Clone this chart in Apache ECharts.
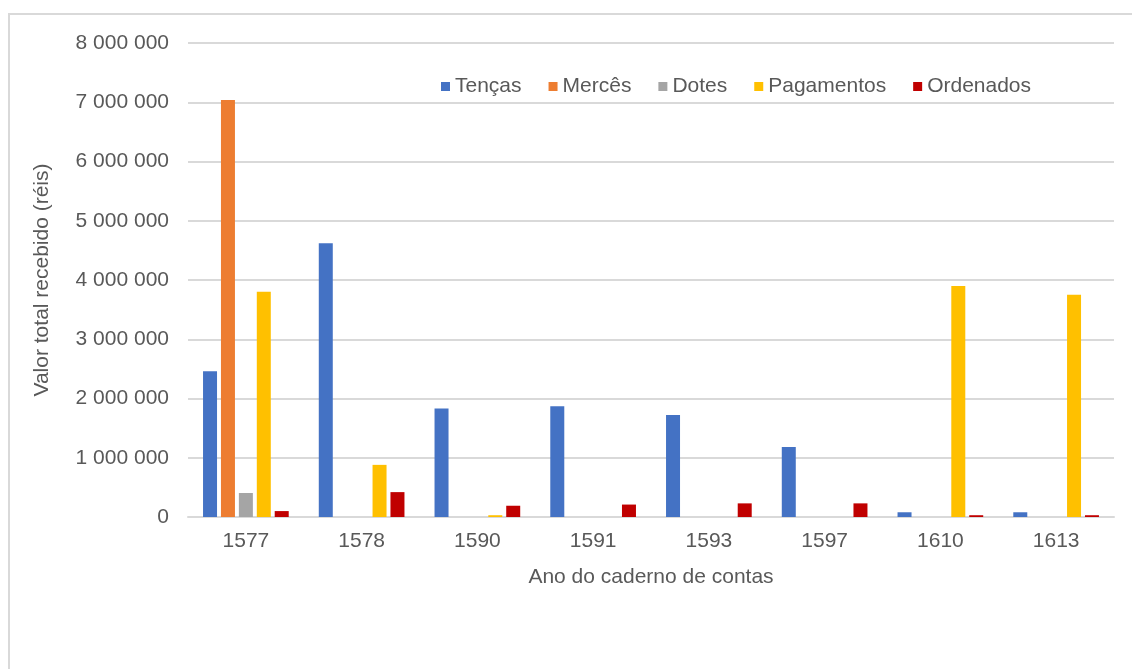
<!DOCTYPE html>
<html lang="pt">
<head>
<meta charset="UTF-8">
<title>Valor total recebido por ano</title>
<script src="https://cdn.jsdelivr.net/npm/echarts@6/dist/echarts.min.js"></script>
<style>
  html,body{margin:0;height:100%;background:#fff;}
  #frame{position:absolute;left:8px;top:13px;right:0;bottom:0;border-top:2px solid #d9d9d9;border-left:2px solid #d9d9d9;}
  #chart{position:absolute;left:0;top:0;width:1132px;height:669px;}
</style>
</head>
<body>
<div id="frame"></div>
<div id="chart"></div>
<script>
const anos = ['1577','1578','1590','1591','1593','1597','1610','1613'];
const tencas     = [2460000,4620000,1830000,1870000,1720000,1180000,80000,80000];
const merces     = [7040000,0,0,0,0,0,0,0];
const dotes      = [405000,0,0,0,0,0,0,0];
const pagamentos = [3800000,880000,30000,0,0,0,3900000,3750000];
const ordenados  = [100000,420000,190000,210000,230000,230000,30000,30000];
const yTicks = [0,1000000,2000000,3000000,4000000,5000000,6000000,7000000,8000000];

const cores = ['#4472C4','#ED7D31','#A5A5A5','#FFC000','#C00000'];
const nomes = ['Tenças','Mercês','Dotes','Pagamentos','Ordenados'];
const valores = [tencas,merces,dotes,pagamentos,ordenados];
const txt = '#595959';
const fmt = v => String(v).replace(/\B(?=(\d{3})+(?!\d))/g,' ');

const chart = echarts.init(document.getElementById('chart'), null, {renderer:'canvas'});
chart.setOption({
  animation:false,
  textStyle:{fontFamily:'"Liberation Sans", Arial, sans-serif'},
  color:cores,
  legend:{
    left:441, top:76, padding:0, itemWidth:9, itemHeight:9, itemGap:27,
    icon:'rect',
    textStyle:{color:txt, fontSize:21},
    data:nomes
  },
  grid:{left:188, right:18, top:43, bottom:152},
  xAxis:{
    type:'category', data:anos,
    name:'Ano do caderno de contas', nameLocation:'middle', nameGap:50,
    nameTextStyle:{color:txt, fontSize:21},
    axisLine:{lineStyle:{color:'#d9d9d9', width:2}},
    axisTick:{show:false},
    axisLabel:{color:txt, fontSize:21, margin:14}
  },
  yAxis:{
    type:'value', min:yTicks[0], max:yTicks[yTicks.length-1], interval:yTicks[1]-yTicks[0],
    name:'Valor total recebido (réis)', nameLocation:'middle', nameGap:135,
    nameTextStyle:{color:txt, fontSize:21},
    axisLine:{show:false}, axisTick:{show:false},
    axisLabel:{color:txt, fontSize:21, margin:19, formatter:fmt},
    splitLine:{lineStyle:{color:'#d9d9d9', width:2}}
  },
  series:nomes.map((n,i)=>({
    name:n, type:'bar', data:valores[i],
    barWidth:14, barGap:'28%'
  }))
});
</script>
</body>
</html>
